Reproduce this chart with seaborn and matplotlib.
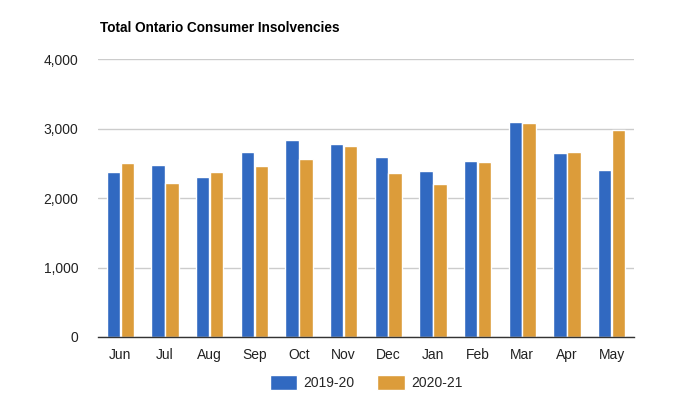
import pandas as pd
import numpy as np
import matplotlib.pyplot as plt
import seaborn as sns
from matplotlib.ticker import FuncFormatter

months = ['Jun', 'Jul', 'Aug', 'Sep', 'Oct', 'Nov', 'Dec', 'Jan', 'Feb', 'Mar', 'Apr', 'May']
y2019_20 = [2380, 2476, 2309, 2661, 2833, 2776, 2590, 2390, 2533, 3090, 2647, 2404]
y2020_21 = [2508, 2223, 2380, 2461, 2561, 2747, 2366, 2209, 2519, 3076, 2661, 2976]
series = ['2019-20', '2020-21']
colors = ['#3169c1', '#dc9c3a']

df = pd.DataFrame({
    'month': months * 2,
    'value': y2019_20 + y2020_21,
    'season': [series[0]] * len(months) + [series[1]] * len(months),
})

sns.set_style('white')
plt.rcParams['font.family'] = ['Liberation Sans', 'DejaVu Sans']

fig = plt.figure(figsize=(6.78, 3.99), dpi=100)
ax = fig.add_axes([0.1445, 0.1554, 0.7905, 0.6966])

sns.barplot(data=df, x='month', y='value', hue='season', palette=colors,
            width=0.62, gap=0.03, saturation=1, ax=ax)

ax.set_ylim(0, 4000)
ax.set_yticks([0, 1000, 2000, 3000, 4000])
ax.yaxis.set_major_formatter(FuncFormatter(lambda v, p: f'{int(v):,}'))
ax.grid(axis='y', color='#cccccc', linewidth=1)
ax.set_axisbelow(True)
for s in ['top', 'right', 'left']:
    ax.spines[s].set_visible(False)
ax.spines['bottom'].set_color('#333333')
ax.spines['bottom'].set_linewidth(1)
ax.set_xlim(-0.5, len(months) - 0.5)
ax.tick_params(axis='both', length=0, labelsize=10, colors='#222222', pad=8)
ax.tick_params(axis='y', pad=14)
ax.set_xlabel('')
ax.set_ylabel('')

ax.legend(loc='upper center', bbox_to_anchor=(0.5, -0.09), ncol=2, frameon=False,
          fontsize=10, handlelength=2.0, handleheight=1.3, columnspacing=1.6,
          handletextpad=0.45)

fig.text(0.1475, 0.93, 'Total Ontario Consumer Insolvencies', fontsize=9.8,
         fontweight='bold', color='#000000', va='center', ha='left')

plt.savefig('out.png', dpi=100)
